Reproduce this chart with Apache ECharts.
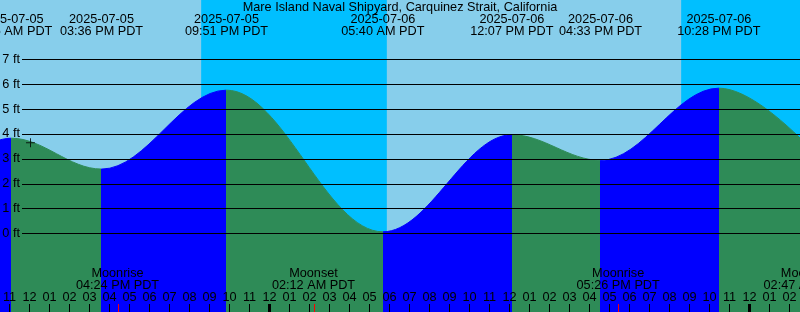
<!DOCTYPE html>
<html><head><meta charset="utf-8">
<script src="https://cdn.jsdelivr.net/npm/echarts@6/dist/echarts.min.js"></script>
<style>html,body{margin:0;padding:0;background:#87CEEB}#c{width:800px;height:312px}</style>
</head><body><div id="c"></div>
<script>
// ---- data ----
const chartTitle = 'Mare Island Naval Shipyard, Carquinez Strait, California';
const tideTimes = ['2025-07-05 04:50','2025-07-05 11:05','2025-07-05 15:36','2025-07-05 21:51','2025-07-06 05:40','2025-07-06 12:07','2025-07-06 16:33','2025-07-06 22:28','2025-07-07 06:20'];
const tideHeights = [-0.10, 3.83, 2.59, 5.76, 0.07, 3.97, 2.94, 5.84, 0.30];
const moonTimes = ['2025-07-05 16:24','2025-07-06 02:12','2025-07-06 17:26','2025-07-07 02:47'];
const moonEvents = ['Moonrise','Moonset','Moonrise','Moonset'];
const nightStarts = ['2025-07-05 20:35','2025-07-06 20:35'];
const nightEnds = ['2025-07-06 05:52','2025-07-07 05:53'];
const midnights = ['2025-07-06 00:00','2025-07-07 00:00'];
const nowTime = '2025-07-05 12:03';
const nowHeight = 3.65;
const hourMin = 10, hourMax = 51;   // hours since 2025-07-05 00:00 PDT
const ftMin = 0, ftMax = 7;

// ---- style ----
const DAY = '#87CEEB', NIGHT = '#00BFFF', RISE = '#0000FF', FALL = '#2E8B57';
const FONT = 'Liberation Sans', FS = 12.7;
const PXFT = 24.9, H = 312;
const yLo = -3.15, yHi = yLo + H / PXFT;

function pad(n){ return (n < 10 ? '0' : '') + n; }
function toH(s){ const p = s.split(' '); const day = parseInt(p[0].slice(8,10),10) - 5; const t = p[1].split(':').map(Number); return day*24 + t[0] + t[1]/60; }
function fmtTime(s){ const t = s.split(' ')[1].split(':').map(Number); const ap = t[0] < 12 ? 'AM' : 'PM'; return pad(t[0] % 12 || 12) + ':' + pad(t[1]) + ' ' + ap + ' PDT'; }

const tideData = tideTimes.map((s,i) => [toH(s), tideHeights[i]]);
const pieces = [];
pieces.push({lt: tideData[0][0], color: tideHeights[0] > tideHeights[1] ? RISE : FALL});
for (let i = 0; i < tideData.length - 1; i++) {
  pieces.push({gte: tideData[i][0], lt: tideData[i+1][0], color: tideHeights[i+1] > tideHeights[i] ? RISE : FALL});
}
const n = tideData.length;
pieces.push({gte: tideData[n-1][0], color: tideHeights[n-1] > tideHeights[n-2] ? FALL : RISE});

const chart = echarts.init(document.getElementById('c'), null, {renderer: 'canvas'});
const txt = (text, x, y) => ({type: 'text', style: {text, x, y, align: 'center', verticalAlign: 'middle', fill: '#000', fontSize: FS, fontFamily: FONT}});

const grid1Bottom = -yLo * PXFT;
const grid1Top = H - grid1Bottom - (ftMax - ftMin) * PXFT;

chart.setOption({
  animation: false,
  backgroundColor: DAY,
  title: {text: chartTitle, left: 'center', top: 1, padding: 0,
    textStyle: {fontSize: FS, fontFamily: FONT, fontWeight: 'normal', color: '#000'}},
  grid: [
    {left: -10.5, right: -9.5, top: 0, bottom: 0, outerBoundsMode: 'none'},
    {left: 22, right: 0, top: grid1Top, bottom: grid1Bottom, outerBoundsMode: 'none'}
  ],
  xAxis: [
    {type: 'value', gridIndex: 0, min: hourMin, max: hourMax, interval: 1, z: 10, position: 'bottom',
     axisLine: {show: false, onZero: false}, splitLine: {show: false},
     axisTick: {show: true, inside: true, length: 8, lineStyle: {color: '#000', width: 1}},
     axisLabel: {inside: true, margin: 8, color: '#000', fontSize: FS, fontFamily: FONT,
       showMinLabel: true, showMaxLabel: true,
       formatter: v => pad(((v % 12) || 12))}},
    {type: 'value', gridIndex: 1, min: 0, max: 1, show: false}
  ],
  yAxis: [
    {type: 'value', gridIndex: 0, min: yLo, max: yHi, show: false},
    {type: 'value', gridIndex: 1, min: ftMin, max: ftMax, interval: 1, z: 10,
     axisLine: {show: false}, axisTick: {show: false},
     splitLine: {show: true, showMinLine: true, showMaxLine: true, lineStyle: {color: '#000', width: 1}},
     axisLabel: {margin: 2, color: '#000', fontSize: FS, fontFamily: FONT, formatter: '{value} ft'}}
  ],
  visualMap: {type: 'piecewise', show: false, dimension: 0, seriesIndex: 1, pieces},
  series: [
    {type: 'custom', xAxisIndex: 0, yAxisIndex: 0, z: 1,
     data: nightStarts.map((s,i) => [toH(s), toH(nightEnds[i])]),
     renderItem: (params, api) => {
       const a = api.coord([api.value(0), 0]), b = api.coord([api.value(1), 0]);
       const cs = params.coordSys;
       return {type: 'rect', shape: {x: a[0], y: cs.y, width: b[0] - a[0], height: cs.height}, style: {fill: NIGHT}};
     }},
    {type: 'line', xAxisIndex: 0, yAxisIndex: 0, z: 2, data: tideData,
     smooth: 0.36, smoothMonotone: 'x', symbol: 'none',
     lineStyle: {width: 1}, areaStyle: {opacity: 1, origin: 'start'}},
    {type: 'scatter', xAxisIndex: 0, yAxisIndex: 0, z: 12,
     data: [[toH(nowTime), nowHeight]],
     symbol: 'path://M4,0H5V9H4ZM0,4H9V5H0Z', symbolSize: 9, itemStyle: {color: '#000'}},
    {type: 'custom', xAxisIndex: 0, yAxisIndex: 0, z: 12,
     data: tideTimes.map((s,i) => [toH(s), i]),
     renderItem: (params, api) => {
       const x = api.coord([api.value(0), 0])[0];
       const s = tideTimes[api.value(1)];
       return {type: 'group', children: [txt(s.split(' ')[0], x, 19.5), txt(fmtTime(s), x, 31.5)]};
     }},
    {type: 'custom', xAxisIndex: 0, yAxisIndex: 0, z: 12,
     data: moonTimes.map((s,i) => [toH(s), i]),
     renderItem: (params, api) => {
       const x = api.coord([api.value(0), 0])[0];
       const i = api.value(1);
       const cs = params.coordSys, bot = cs.y + cs.height;
       return {type: 'group', children: [
         txt(moonEvents[i], x, 273.3), txt(fmtTime(moonTimes[i]), x, 285),
         {type: 'rect', shape: {x: Math.round(x), y: bot - 8, width: 1, height: 8}, style: {fill: '#FF0000'}}
       ]};
     }},
    {type: 'custom', xAxisIndex: 0, yAxisIndex: 0, z: 12,
     data: midnights.map(s => [toH(s)]),
     renderItem: (params, api) => {
       const x = api.coord([api.value(0), 0])[0];
       const cs = params.coordSys, bot = cs.y + cs.height;
       return {type: 'rect', shape: {x: x - 1.5, y: bot - 8, width: 3, height: 8}, style: {fill: '#000'}};
     }}
  ]
});
</script></body></html>
